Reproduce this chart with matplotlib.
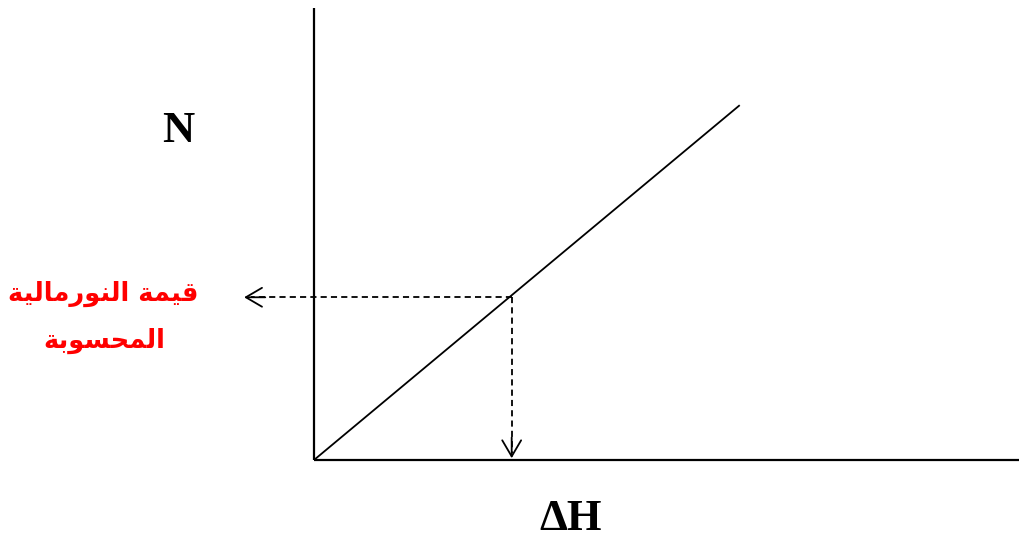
import matplotlib
matplotlib.use("Agg")
import matplotlib.pyplot as plt

# data
line_x = [0, 6.03]
line_y = [0, 7.85]
read_x = 2.8
read_y = 3.6
y_label = "N"
x_label = "ΔH"
note_lines = ["قيمة النورمالية", "المحسوبة"]

# matplotlib does no Arabic shaping, so pick the presentation forms by hand
# (isolated, final, initial, medial)
FORMS = {
    'ا': (0xFE8D, 0xFE8E, 0xFE8D, 0xFE8E),
    'ب': (0xFE8F, 0xFE90, 0xFE91, 0xFE92),
    'ة': (0xFE93, 0xFE94, 0xFE93, 0xFE94),
    'ح': (0xFEA1, 0xFEA2, 0xFEA3, 0xFEA4),
    'ر': (0xFEAD, 0xFEAE, 0xFEAD, 0xFEAE),
    'س': (0xFEB1, 0xFEB2, 0xFEB3, 0xFEB4),
    'ق': (0xFED5, 0xFED6, 0xFED7, 0xFED8),
    'ل': (0xFEDD, 0xFEDE, 0xFEDF, 0xFEE0),
    'م': (0xFEE1, 0xFEE2, 0xFEE3, 0xFEE4),
    'ن': (0xFEE5, 0xFEE6, 0xFEE7, 0xFEE8),
    'و': (0xFEED, 0xFEEE, 0xFEED, 0xFEEE),
    'ي': (0xFEF1, 0xFEF2, 0xFEF3, 0xFEF4),
}
NO_JOIN_NEXT = set('اةرو')


def shape(text):
    out = []
    for i, ch in enumerate(text):
        if ch not in FORMS:
            out.append(ch)
            continue
        prev = text[i - 1] if i > 0 else ''
        nxt = text[i + 1] if i + 1 < len(text) else ''
        join_prev = prev in FORMS and prev not in NO_JOIN_NEXT
        join_next = nxt in FORMS and ch not in NO_JOIN_NEXT
        iso, fin, ini, med = FORMS[ch]
        if join_prev and join_next:
            out.append(chr(med))
        elif join_prev:
            out.append(chr(fin))
        elif join_next:
            out.append(chr(ini))
        else:
            out.append(chr(iso))
    return ''.join(out)[::-1]


W, H = 1020, 543
fig = plt.figure(figsize=(W / 100, H / 100), dpi=100)
ax = fig.add_axes([314 / W, 83 / H, 706 / W, 452 / H])
ax.set_xlim(0, 10)
ax.set_ylim(0, 10)
ax.set_xticks([])
ax.set_yticks([])
for side in ['top', 'right']:
    ax.spines[side].set_visible(False)
for side in ['left', 'bottom']:
    ax.spines[side].set_linewidth(1.6)
    ax.spines[side].set_capstyle('butt')

ax.plot(line_x, line_y, color='black', lw=1.3, solid_capstyle='butt')

# dashed read-off lines
dash = (0, (3.4, 2.3))
left_tip = -0.99
ax.plot([read_x, left_tip + 0.1], [read_y, read_y], color='black', lw=1.3,
        linestyle=dash, clip_on=False)
ax.plot([read_x, read_x], [read_y, 0.15], color='black', lw=1.3,
        linestyle=dash, clip_on=False)

head = dict(arrowstyle='->, head_length=0.58, head_width=0.34', color='black',
            lw=1.3, mutation_scale=20, shrinkA=0, shrinkB=0)
ax.annotate('', xy=(left_tip, read_y), xytext=(left_tip + 0.3, read_y),
            arrowprops=head, annotation_clip=False)
ax.annotate('', xy=(read_x, 0.04), xytext=(read_x, 0.5),
            arrowprops=head, annotation_clip=False)

serif = dict(family='Liberation Serif', weight='bold', size=32)
fig.text(178 / W, 1 - 131 / H, y_label, ha='center', va='center', **serif)
fig.text(571 / W, 1 - 519 / H, x_label, ha='center', va='center', **serif)

fig.text(103 / W, 1 - 294 / H, shape(note_lines[0]), ha='center', va='center',
         color='#ff0000', family='DejaVu Sans', weight='bold', size=18.5)
fig.text(104 / W, 1 - 341 / H, shape(note_lines[1]), ha='center', va='center',
         color='#ff0000', family='DejaVu Sans', weight='bold', size=18.5)

fig.savefig('out.png', dpi=100)
